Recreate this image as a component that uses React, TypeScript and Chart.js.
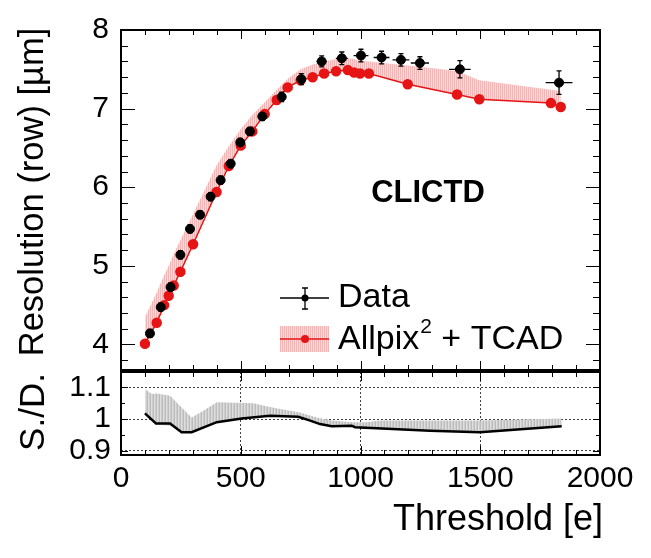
import React, { useEffect, useRef } from "react";
import { Chart, registerables } from "chart.js";
Chart.register(...registerables);

const FONT = "'Liberation Sans', Arial, Helvetica, sans-serif";

// Measured data (black points with error bars)
const dataX = [121, 166, 207, 248, 288, 330, 374, 416, 458, 498, 538, 590, 671, 753, 838, 922, 1002, 1088, 1169, 1248, 1415, 1829];
const dataY = [4.14, 4.475, 4.73, 5.14, 5.47, 5.65, 5.88, 6.09, 6.3, 6.57, 6.71, 6.9, 7.15, 7.375, 7.6, 7.64, 7.675, 7.65, 7.62, 7.58, 7.5, 7.33];
const dataYErr = [0.05, 0.05, 0.05, 0.05, 0.05, 0.05, 0.05, 0.05, 0.05, 0.05, 0.05, 0.05, 0.06, 0.07, 0.07, 0.08, 0.08, 0.08, 0.08, 0.08, 0.11, 0.15];
const dataXErr = [8, 8, 8, 8, 8, 8, 8, 8, 10, 10, 10, 12, 15, 18, 22, 25, 31, 33, 35, 38, 45, 56];

// Simulation (Allpix^2 + TCAD)
const simX = [100, 149, 180, 199, 220, 248, 301, 399, 450, 500, 548, 600, 650, 696, 750, 800, 848, 898, 947, 973, 998, 1035, 1197, 1403, 1496, 1795, 1836];
const simY = [4.01, 4.275, 4.5, 4.62, 4.75, 4.925, 5.275, 5.94, 6.27, 6.53, 6.71, 6.93, 7.11, 7.27, 7.36, 7.4, 7.446, 7.475, 7.49, 7.46, 7.446, 7.446, 7.31, 7.18, 7.12, 7.07, 7.02];
const simUpper = [4.35, 4.66, 4.88, 5.0, 5.15, 5.33, 5.66, 6.28, 6.52, 6.74, 6.92, 7.08, 7.24, 7.38, 7.5, 7.56, 7.6, 7.63, 7.64, 7.63, 7.61, 7.6, 7.55, 7.48, 7.36, 7.24, 7.22];

// Ratio panel (S./D.)
const ratioX = [100, 146, 205, 253, 295, 400, 504, 622, 740, 790, 831, 880, 963, 977, 1290, 1499, 1840];
const ratioY = [1.018, 0.986, 0.986, 0.958, 0.958, 0.99, 1.002, 1.01, 1.007, 0.995, 0.984, 0.977, 0.979, 0.974, 0.963, 0.958, 0.977];
const bandUpX = [100, 128, 149, 205, 246, 295, 344, 400, 552, 622, 664, 747, 817, 880, 970, 1025, 1081, 1499, 1840];
const bandUpY = [1.095, 1.079, 1.081, 1.074, 1.042, 1.005, 1.026, 1.053, 1.05, 1.038, 1.032, 1.021, 1.005, 0.995, 0.99, 0.99, 0.995, 0.995, 1.002];
const bandLoX = [100, 146, 205, 253, 295, 400, 504, 622, 740, 790, 831, 880, 963, 977, 1290, 1499, 1840];
const bandLoY = [1.018, 0.983, 0.979, 0.958, 0.958, 0.99, 1.002, 1.01, 1.007, 0.995, 0.984, 0.977, 0.979, 0.974, 0.963, 0.958, 0.977];

const xTicks = [0, 500, 1000, 1500, 2000];

const pts = (xs: number[], ys: number[]) => xs.map((x, i) => ({ x, y: ys[i] }));

function hatch(cols: string[]): CanvasPattern | string {
  const c = document.createElement("canvas");
  c.width = cols.length;
  c.height = 4;
  const g = c.getContext("2d");
  if (!g) return cols[0];
  cols.forEach((col, i) => {
    g.fillStyle = col;
    g.fillRect(i, 0, 1, 4);
  });
  const p = g.createPattern(c, "repeat");
  return p || cols[0];
}

const PINK = ["rgb(243,182,182)", "rgb(251,218,218)"];
const GRAY = ["rgb(188,188,188)", "rgb(222,222,222)", "rgb(205,205,205)"];

function drawFrame(chart: any, yMinor: number, yMajor: number, yLenMaj: number, yLenMin: number) {
  const { ctx, chartArea: a, scales } = chart;
  const xs = scales.x, ys = scales.y;
  ctx.save();
  ctx.strokeStyle = "#000";
  ctx.lineWidth = 1;
  ctx.beginPath();
  for (let k = 0; k <= 20; k++) {
    const v = k * 100;
    const px = Math.round(xs.getPixelForValue(v)) + 0.5;
    const len = k % 5 === 0 ? 9 : 5;
    ctx.moveTo(px, a.top); ctx.lineTo(px, a.top + len);
    ctx.moveTo(px, a.bottom); ctx.lineTo(px, a.bottom - len);
  }
  const start = Math.ceil(ys.min / yMinor - 1e-6);
  const end = Math.floor(ys.max / yMinor + 1e-6);
  for (let k = start; k <= end; k++) {
    const v = k * yMinor;
    const py = Math.round(ys.getPixelForValue(v)) + 0.5;
    const r = v / yMajor;
    const isMajor = Math.abs(r - Math.round(r)) < 1e-6;
    const len = isMajor ? yLenMaj : yLenMin;
    ctx.moveTo(a.left, py); ctx.lineTo(a.left + len, py);
    ctx.moveTo(a.right, py); ctx.lineTo(a.right - len, py);
  }
  ctx.stroke();
  ctx.lineWidth = 2;
  ctx.strokeRect(a.left, a.top, a.right - a.left, a.bottom - a.top);
  ctx.restore();
}

const topPlugin = {
  id: "topDecor",
  afterDatasetsDraw(chart: any) {
    const { ctx, scales } = chart;
    const xs = scales.x, ys = scales.y;
    ctx.save();
    ctx.strokeStyle = "#000";
    ctx.lineWidth = 1.3;
    ctx.beginPath();
    dataX.forEach((x, i) => {
      const px = xs.getPixelForValue(x);
      const py = ys.getPixelForValue(dataY[i]);
      const y1 = ys.getPixelForValue(dataY[i] + dataYErr[i]);
      const y2 = ys.getPixelForValue(dataY[i] - dataYErr[i]);
      const x1 = xs.getPixelForValue(x - dataXErr[i]);
      const x2 = xs.getPixelForValue(x + dataXErr[i]);
      ctx.moveTo(px, y1); ctx.lineTo(px, y2);
      ctx.moveTo(px - 2.5, y1); ctx.lineTo(px + 2.5, y1);
      ctx.moveTo(px - 2.5, y2); ctx.lineTo(px + 2.5, y2);
      ctx.moveTo(x1, py); ctx.lineTo(x2, py);
    });
    ctx.stroke();
    ctx.restore();
  },
  afterDraw(chart: any) {
    drawFrame(chart, 0.2, 1, 14, 7);
    const { ctx } = chart;
    ctx.save();
    ctx.fillStyle = "#000";
    // y title
    ctx.save();
    ctx.translate(33, 192);
    ctx.rotate(-Math.PI / 2);
    ctx.font = `34.5px ${FONT}`;
    ctx.textAlign = "center";
    ctx.textBaseline = "middle";
    ctx.fillText("Resolution (row) [\u00b5m]", 0, 0);
    ctx.restore();
    // CLICTD label
    ctx.font = `bold 31px ${FONT}`;
    ctx.textAlign = "center";
    ctx.textBaseline = "middle";
    ctx.fillText("CLICTD", 428, 193);
    // Legend: Data
    ctx.strokeStyle = "#000";
    ctx.lineWidth = 1.3;
    ctx.beginPath();
    ctx.moveTo(280, 298); ctx.lineTo(329, 298);
    ctx.moveTo(305, 288); ctx.lineTo(305, 309);
    ctx.moveTo(302, 288); ctx.lineTo(308, 288);
    ctx.moveTo(302, 309); ctx.lineTo(308, 309);
    ctx.stroke();
    ctx.beginPath(); ctx.arc(305, 298, 3.5, 0, Math.PI * 2); ctx.fill();
    ctx.font = `34px ${FONT}`;
    ctx.textAlign = "left";
    ctx.textBaseline = "middle";
    ctx.fillText("Data", 338, 298);
    // Legend: Allpix
    ctx.fillStyle = hatch(PINK);
    ctx.fillRect(280, 326, 49, 26);
    ctx.strokeStyle = "rgb(230,20,20)";
    ctx.beginPath(); ctx.moveTo(280, 339); ctx.lineTo(329, 339); ctx.stroke();
    ctx.fillStyle = "rgb(230,20,20)";
    ctx.beginPath(); ctx.arc(305, 339, 4, 0, Math.PI * 2); ctx.fill();
    ctx.fillStyle = "#000";
    ctx.font = `34px ${FONT}`;
    let tx = 338;
    ctx.fillText("Allpix", tx, 340);
    tx += ctx.measureText("Allpix").width;
    ctx.font = `21px ${FONT}`;
    ctx.fillText("2", tx + 1, 327);
    tx += ctx.measureText("2").width + 1;
    ctx.font = `34px ${FONT}`;
    ctx.fillText(" + TCAD", tx, 340);
    ctx.restore();
  },
};

const botPlugin = {
  id: "botDecor",
  afterDraw(chart: any) {
    drawFrame(chart, 0.05, 0.1, 7, 4);
    const { ctx } = chart;
    ctx.save();
    ctx.fillStyle = "#000";
    ctx.save();
    ctx.translate(34, 412);
    ctx.rotate(-Math.PI / 2);
    ctx.font = `35px ${FONT}`;
    ctx.textAlign = "center";
    ctx.textBaseline = "middle";
    ctx.fillText("S./D.", 0, 0);
    ctx.restore();
    ctx.font = `36px ${FONT}`;
    ctx.textAlign = "right";
    ctx.textBaseline = "alphabetic";
    ctx.fillText("Threshold [e]", 603, 530);
    ctx.restore();
  },
};

export default function App() {
  const topRef = useRef<HTMLCanvasElement>(null);
  const botRef = useRef<HTMLCanvasElement>(null);

  useEffect(() => {
    const pink = hatch(PINK);
    const gray = hatch(GRAY);

    const top = new Chart(topRef.current!, {
      type: "line",
      data: {
        datasets: [
          {
            label: "Data",
            data: pts(dataX, dataY),
            showLine: false,
            pointRadius: 4.5,
            pointBackgroundColor: "#000",
            pointBorderColor: "#000",
            borderColor: "#000",
          },
          {
            label: "Allpix2 + TCAD",
            data: pts(simX, simY),
            borderColor: "rgb(230,20,20)",
            borderWidth: 1.5,
            pointRadius: 4.5,
            pointBackgroundColor: "rgb(230,20,20)",
            pointBorderColor: "rgb(230,20,20)",
            tension: 0,
          },
          {
            label: "band",
            data: pts(simX, simUpper),
            borderWidth: 0,
            pointRadius: 0,
            borderColor: "rgba(0,0,0,0)",
            backgroundColor: pink,
            fill: 1,
            tension: 0,
          },
        ],
      },
      options: {
        animation: false,
        responsive: true,
        maintainAspectRatio: false,
        layout: { padding: { top: 24, right: 51, bottom: 188, left: 0 } },
        plugins: { legend: { display: false }, tooltip: { enabled: false } },
        scales: {
          x: { type: "linear", min: 0, max: 2000, display: false },
          y: {
            type: "linear",
            min: 3.675,
            max: 8,
            afterFit: (s: any) => { s.width = 121; },
            grid: { display: false, drawTicks: false },
            border: { display: false },
            ticks: {
              stepSize: 1,
              includeBounds: false,
              padding: 12,
              color: "#000",
              font: { family: FONT, size: 30 },
            },
          },
        },
      },
      plugins: [topPlugin],
    } as any);

    const bot = new Chart(botRef.current!, {
      type: "line",
      data: {
        datasets: [
          {
            label: "ratio",
            data: pts(ratioX, ratioY),
            borderColor: "#000",
            borderWidth: 2.5,
            pointRadius: 0,
            tension: 0,
          },
          {
            label: "bandUp",
            data: pts(bandUpX, bandUpY),
            borderWidth: 0,
            borderColor: "rgba(0,0,0,0)",
            pointRadius: 0,
            backgroundColor: gray,
            fill: 2,
            tension: 0,
          },
          {
            label: "bandLo",
            data: pts(bandLoX, bandLoY),
            borderWidth: 0,
            borderColor: "rgba(0,0,0,0)",
            pointRadius: 0,
            tension: 0,
          },
        ],
      },
      options: {
        animation: false,
        responsive: true,
        maintainAspectRatio: false,
        layout: { padding: { top: 372, right: 51, bottom: 0, left: 0 } },
        plugins: { legend: { display: false }, tooltip: { enabled: false } },
        scales: {
          x: {
            type: "linear",
            min: 0,
            max: 2000,
            afterFit: (s: any) => { s.height = 103; },
            afterBuildTicks: (s: any) => { s.ticks = xTicks.map((v) => ({ value: v })); },
            grid: { color: "rgba(0,0,0,0.75)", lineWidth: 1, drawTicks: false },
            border: { display: false, dash: [2, 2] },
            ticks: {
              padding: 6,
              color: "#000",
              maxRotation: 0,
              autoSkip: false,
              font: { family: FONT, size: 30 },
              callback: (v: any) => String(v),
            },
          },
          y: {
            type: "linear",
            min: 0.886,
            max: 1.149,
            afterFit: (s: any) => { s.width = 121; },
            grid: { color: "rgba(0,0,0,0.75)", lineWidth: 1, drawTicks: false },
            border: { display: false, dash: [2, 2] },
            ticks: {
              stepSize: 0.1,
              includeBounds: false,
              padding: 10,
              color: "#000",
              font: { family: FONT, size: 30 },
              callback: (v: any) => String(Math.round(Number(v) * 10) / 10),
            },
          },
        },
      },
      plugins: [botPlugin],
    } as any);

    return () => {
      top.destroy();
      bot.destroy();
    };
  }, []);

  return (
    <div style={{ position: "absolute", left: 0, top: 0, width: 651, height: 558, background: "#fff" }}>
      <div style={{ position: "absolute", left: 0, top: 0, width: 651, height: 558 }}>
        <canvas ref={topRef} />
      </div>
      <div style={{ position: "absolute", left: 0, top: 0, width: 651, height: 558 }}>
        <canvas ref={botRef} />
      </div>
    </div>
  );
}
